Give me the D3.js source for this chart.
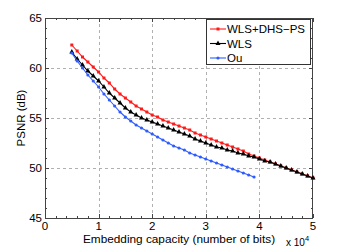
<!DOCTYPE html>
<html>
<head>
<meta charset="utf-8">
<script src="https://cdn.jsdelivr.net/npm/d3@7"></script>
<style>
  body { margin: 0; background: #fff; }
  svg text { font-family: "Liberation Sans", Arial, sans-serif; fill: #000; }
</style>
</head>
<body>
<svg id="chart" width="346" height="249"></svg>
<script>
// capacity in units of 1e4 bits
const xRed = [0.5,0.6,0.7,0.8,0.9,1.0,1.1,1.2,1.3,1.4,1.5,1.6,1.7,1.8,1.9,2.0,2.1,2.2,2.3,2.4,2.5,2.6,2.7,2.8,2.9,3.0,3.1,3.2,3.3,3.4,3.5,3.6,3.7,3.8,3.9,4.0,4.1,4.2,4.3,4.4,4.5,4.6,4.7,4.8,4.9,5.0]
const redPsnr = [62.3,61.7,61.1,60.6,60.1,59.6,59.0,58.5,57.9,57.4,57.0,56.6,56.2,55.9,55.6,55.3,55.1,54.8,54.6,54.4,54.2,54.0,53.8,53.5,53.3,53.1,52.9,52.7,52.5,52.3,52.1,51.9,51.7,51.4,51.2,51.0,50.8,50.6,50.4,50.2,50.0,49.8,49.6,49.4,49.2,49.0]
const xBlack = xRed
const blackPsnr = [61.6,60.9,60.3,59.7,59.2,58.7,58.1,57.5,57.0,56.5,56.0,55.6,55.3,55.0,54.8,54.6,54.4,54.2,54.0,53.8,53.6,53.4,53.2,52.9,52.7,52.5,52.3,52.1,52.0,51.8,51.7,51.5,51.4,51.2,51.1,50.9,50.7,50.6,50.4,50.2,50.0,49.8,49.6,49.4,49.2,49.0]
const xBlue = [0.5,0.6,0.7,0.8,0.9,1.0,1.1,1.2,1.3,1.4,1.5,1.6,1.7,1.8,1.9,2.0,2.1,2.2,2.3,2.4,2.5,2.6,2.7,2.8,2.9,3.0,3.1,3.2,3.3,3.4,3.5,3.6,3.7,3.8,3.9]
const bluePsnr = [61.5,60.7,60.0,59.3,58.7,58.1,57.4,56.8,56.2,55.6,55.1,54.7,54.3,54.0,53.7,53.4,53.1,52.8,52.5,52.2,52.0,51.8,51.5,51.3,51.1,50.9,50.7,50.5,50.3,50.1,49.9,49.7,49.5,49.3,49.1]

const seriesNames = ["WLS+DHS\u2212PS", "WLS", "Ou"]
const xTicks = [0,1,2,3,4,5]
const yTicks = [45,50,55,60,65]

const svg = d3.select("#chart")
const pl = 45, pr = 313, pt = 18, pb = 218

const x = d3.scaleLinear().domain([0,5]).range([pl,pr])
const y = d3.scaleLinear().domain([45,65]).range([pb,pt])

// grid
const grid = svg.append("g").attr("stroke","#b0b0b0").attr("stroke-dasharray","3,3").attr("stroke-width",1)
xTicks.slice(1,-1).forEach(t => {
  grid.append("line").attr("x1",Math.round(x(t))+0.5).attr("x2",Math.round(x(t))+0.5).attr("y1",pt).attr("y2",pb)
})
yTicks.slice(1,-1).forEach(t => {
  grid.append("line").attr("x1",pl).attr("x2",pr).attr("y1",Math.round(y(t))+0.5).attr("y2",Math.round(y(t))+0.5)
})

// axes with inward ticks
const ax = svg.append("g")
const tickLine = (x1,y1,x2,y2) => ax.append("line").attr("x1",x1).attr("y1",y1).attr("x2",x2).attr("y2",y2).attr("stroke","#444").attr("stroke-width",1)
d3.range(0,5.01,0.2).forEach(t => {
  const px = Math.round(x(t))+0.5
  const len = Math.abs(t - Math.round(t)) < 1e-6 ? 4 : 2
  tickLine(px,pb,px,pb-len)
  tickLine(px,pt,px,pt+len)
})
d3.range(45,65.01,1).forEach(t => {
  const py = Math.round(y(t))+0.5
  const len = t % 5 === 0 ? 4 : 2
  tickLine(pl,py,pl+len,py)
  tickLine(pr,py,pr-len,py)
})
ax.append("rect").attr("x",pl+0.5).attr("y",pt+0.5).attr("width",pr-pl-1).attr("height",pb-pt)
  .attr("fill","none").attr("stroke","#444").attr("stroke-width",1)

// tick labels
svg.append("g").selectAll("text").data(xTicks).join("text")
  .attr("x",d=>x(d)).attr("y",pb+12).attr("text-anchor","middle").attr("font-size",11.5).text(d=>d)
svg.append("g").selectAll("text").data(yTicks).join("text")
  .attr("x",pl-3).attr("y",d=>y(d)+4).attr("text-anchor","end").attr("font-size",11.5).text(d=>d)

svg.append("text").attr("x",179).attr("y",243).attr("text-anchor","middle").attr("font-size",11.8)
  .text("Embedding capacity (number of bits)")
const ex = svg.append("text").attr("x",286).attr("y",246).attr("font-size",10)
ex.append("tspan").text("x 10")
ex.append("tspan").attr("dy",-5).attr("font-size",7.5).text("4")
svg.append("text").attr("transform","translate(25,118) rotate(-90)").attr("text-anchor","middle").attr("font-size",11.5)
  .text("PSNR (dB)")

// series
const series = [
  {xs:xRed, ys:redPsnr, color:"#ff1a1a", marker:d3.symbolSquare, size:9},
  {xs:xBlack, ys:blackPsnr, color:"#000000", marker:d3.symbolTriangle, size:11},
  {xs:xBlue, ys:bluePsnr, color:"#2f5cff", marker:d3.symbolCircle, size:8}
]
const line = d3.line().x(d=>x(d[0])).y(d=>y(d[1]))
series.forEach(s => {
  const pts = s.xs.map((v,i)=>[v,s.ys[i]])
  const g = svg.append("g")
  g.append("path").attr("d",line(pts)).attr("fill","none").attr("stroke",s.color).attr("stroke-width",1.1)
  g.selectAll("path.m").data(pts).join("path").attr("class","m")
    .attr("transform",d=>`translate(${x(d[0])},${y(d[1])})`)
    .attr("d",d3.symbol().type(s.marker).size(s.size)).attr("fill",s.color)
})

// legend
const lg = svg.append("g")
lg.append("rect").attr("x",206.5).attr("y",19.5).attr("width",104).attr("height",45)
  .attr("fill","#fff").attr("stroke","#333").attr("stroke-width",1)
seriesNames.forEach((n,i) => {
  const ly = 29 + i*14.5
  const s = series[i]
  lg.append("line").attr("x1",210).attr("x2",226).attr("y1",ly).attr("y2",ly).attr("stroke",s.color).attr("stroke-width",1.1)
  lg.append("path").attr("transform",`translate(218,${ly})`).attr("d",d3.symbol().type(s.marker).size(s.size)).attr("fill",s.color)
  lg.append("text").attr("x",227).attr("y",ly+4).attr("font-size",11.5).text(n)
})
</script>
</body>
</html>
